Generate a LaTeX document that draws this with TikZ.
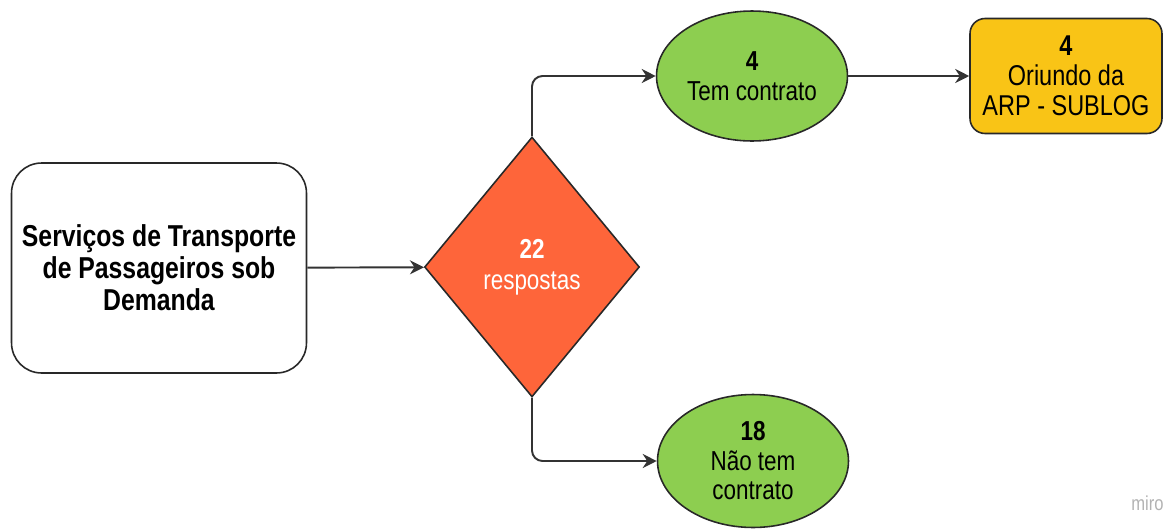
\documentclass[tikz,border=0pt]{standalone}
\usepackage{fontspec}
\setmainfont{Liberation Sans}[FakeStretch=0.82]
\usepackage{tikz}
\usetikzlibrary{arrows.meta,shapes.geometric,positioning}
\definecolor{laranja}{RGB}{254,101,58}
\definecolor{verde}{RGB}{141,206,80}
\definecolor{ouro}{RGB}{249,196,22}
\definecolor{contorno}{RGB}{40,40,40}

\begin{document}
\begin{tikzpicture}[x=0.02cm, y=-0.02cm,
		servico/.style={draw=contorno, line width=0.9pt, rounded corners=0.6cm, fill=white, minimum width=5.9cm, minimum height=4.2cm, align=center, font=\fontsize{17.2}{18.3}\selectfont\bfseries},
		decisao/.style={diamond, draw=contorno, line width=0.9pt, fill=laranja, minimum width=4.3cm, minimum height=5.2cm, inner sep=0pt, align=center, text=white, font=\fontsize{15.6}{17.4}\selectfont},
		resultado/.style={ellipse, draw=contorno, line width=0.9pt, fill=verde, inner sep=0pt, align=center, font=\fontsize{15.6}{16.8}\selectfont},
		origem/.style={draw=contorno, line width=0.9pt, rounded corners=0.3cm, fill=ouro, minimum width=3.84cm, minimum height=2.3cm, align=center, font=\fontsize{16.3}{17}\selectfont},
		seta/.style={-{Stealth[length=8pt, width=8pt]}, line width=1.1pt, draw=black!80, rounded corners=6pt}
		]
	\useasboundingbox (0,0) rectangle (1164,528);

	% --- Nos ---
	\node[servico] (serv) at (159, 268) {Serviços de Transporte\\de Passageiros sob\\Demanda};
	\node[decisao] (resp) at (532, 267) {\textbf{22}\\respostas};
	\node[resultado, minimum width=3.82cm, minimum height=2.6cm] (tem) at (752, 76) {\textbf{4}\\Tem contrato};
	\node[resultado, minimum width=3.82cm, minimum height=2.66cm] (naotem) at (753, 461) {\textbf{18}\\Não tem\\contrato};
	\node[origem] (arp) at (1066, 76) {\textbf{4}\\Oriundo da\\ARP - SUBLOG};

	% marca d'agua
	\node[anchor=west, text=black!30, font=\fontsize{11.5}{12}\selectfont, inner sep=0pt] (miro) at (1131, 503) {miro};

	% --- Setas ---
	\draw[seta] (serv) -- (resp);
	\draw[seta] (resp.north) |- (tem.west);
	\draw[seta] (tem) -- (arp);
	\draw[seta] (resp.south) |- (naotem.west);

\end{tikzpicture}
\end{document}
